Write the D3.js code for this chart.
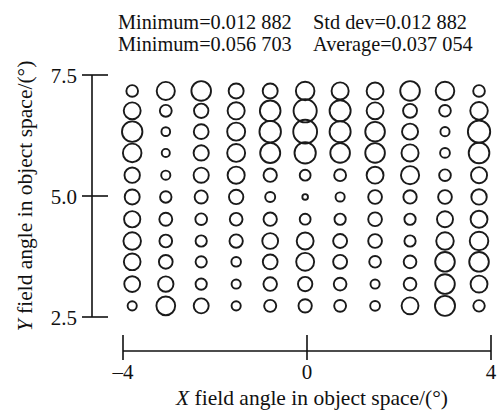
<!DOCTYPE html>
<html lang="en">
<head>
<meta charset="utf-8">
<title>RMS spot grid</title>
<script src="https://d3js.org/d3.v7.min.js"></script>
<style type="text/css">
    body { margin: 0; background-color: #fff; }
    text { font-family: "Liberation Serif", "Times New Roman", serif; font-size: 21px; fill: #111; }
    .title { font-size: 21.5px; }
    .stat { font-size: 20.3px; }
    .axis line, .axis path { stroke: #111; stroke-width: 1.6; }
</style>
</head>
<body>
<script type="text/javascript">

//Width and height
var w = 497;
var h = 412;

// field positions of the grid (degrees)
var xFields = [-3.80, -3.07, -2.30, -1.54, -0.80, -0.04, 0.72, 1.48, 2.24, 3.00, 3.74];
var yFields = [7.17, 6.76, 6.33, 5.89, 5.43, 4.98, 4.52, 4.07, 3.64, 3.18, 2.73];

// RMS spot values, one row per y field (top to bottom)
var row1  = [0.0275, 0.0431, 0.0466, 0.0355, 0.0355, 0.0441, 0.0406, 0.0401, 0.0466, 0.0441, 0.0275];
var row2  = [0.0401, 0.0280, 0.0340, 0.0406, 0.0491, 0.0552, 0.0501, 0.0401, 0.0330, 0.0275, 0.0416];
var row3  = [0.0486, 0.0204, 0.0350, 0.0426, 0.0511, 0.0567, 0.0501, 0.0466, 0.0380, 0.0215, 0.0531];
var row4  = [0.0441, 0.0189, 0.0360, 0.0426, 0.0476, 0.0506, 0.0466, 0.0466, 0.0406, 0.0230, 0.0491];
var row5  = [0.0365, 0.0215, 0.0360, 0.0406, 0.0315, 0.0255, 0.0280, 0.0401, 0.0431, 0.0275, 0.0380];
var row6  = [0.0355, 0.0270, 0.0310, 0.0340, 0.0235, 0.0129, 0.0215, 0.0325, 0.0315, 0.0325, 0.0365];
var row7  = [0.0385, 0.0305, 0.0275, 0.0300, 0.0315, 0.0255, 0.0265, 0.0325, 0.0265, 0.0380, 0.0401];
var row8  = [0.0416, 0.0300, 0.0265, 0.0315, 0.0375, 0.0401, 0.0330, 0.0325, 0.0265, 0.0416, 0.0441];
var row9  = [0.0396, 0.0325, 0.0265, 0.0225, 0.0350, 0.0426, 0.0330, 0.0275, 0.0300, 0.0466, 0.0466];
var row10 = [0.0375, 0.0365, 0.0265, 0.0215, 0.0320, 0.0340, 0.0300, 0.0215, 0.0300, 0.0466, 0.0401];
var row11 = [0.0215, 0.0446, 0.0355, 0.0215, 0.0285, 0.0315, 0.0280, 0.0230, 0.0401, 0.0476, 0.0270];
var rows = [row1, row2, row3, row4, row5, row6, row7, row8, row9, row10, row11];

// tick labels and header
var xTicks = [-4, 0, 4];
var xTickLabels = ["\u20134", "0", "4"];
var yTicks = [7.5, 5.0, 2.5];
var yTickLabels = ["7.5", "5.0", "2.5"];
var statsLeft = ["Minimum=0.012 882", "Minimum=0.056 703"];
var statsRight = ["Std dev=0.012 882", "Average=0.037 054"];

//Scales
var x = d3.scaleLinear().domain([-4, 4]).range([123, 491]);
var y = d3.scaleLinear().domain([2.5, 7.5]).range([317, 75]);
var r = d3.scaleLinear().domain([0.0129, 0.0567]).range([2.8, 11.9]);

//Create SVG element
var svg = d3.select("body")
            .append("svg")
            .attr("width", w)
            .attr("height", h);

//flatten the grid into points
var points = [];
for (var i = 0; i < rows.length; i++) {
    for (var j = 0; j < rows[i].length; j++) {
        points.push({ fx: xFields[j], fy: yFields[i], v: rows[i][j] });
    }
}

svg.selectAll("circle.spot")
   .data(points)
   .enter()
   .append("circle")
   .attr("class", "spot")
   .attr("cx", function(d) { return x(d.fx); })
   .attr("cy", function(d) { return y(d.fy); })
   .attr("r", function(d) { return r(d.v); })
   .attr("fill", "none")
   .attr("stroke", "#1a1a1a")
   .attr("stroke-width", 1.9);

// Y axis
var yAxis = svg.append("g").attr("class", "axis");
yAxis.append("line")
     .attr("x1", 92).attr("x2", 92)
     .attr("y1", y(7.5)).attr("y2", y(2.5));
yAxis.selectAll("line.tick")
     .data(yTicks)
     .enter()
     .append("line")
     .attr("class", "tick")
     .attr("x1", 82).attr("x2", 108)
     .attr("y1", function(d) { return y(d); })
     .attr("y2", function(d) { return y(d); });
yAxis.selectAll("text")
     .data(yTicks)
     .enter()
     .append("text")
     .attr("x", 77)
     .attr("y", function(d) { return y(d) + 8; })
     .attr("text-anchor", "end")
     .text(function(d, i) { return yTickLabels[i]; });

// X axis
var xAxis = svg.append("g").attr("class", "axis");
xAxis.append("line")
     .attr("x1", x(-4)).attr("x2", x(4))
     .attr("y1", 351).attr("y2", 351);
xAxis.selectAll("line.tick")
     .data(xTicks)
     .enter()
     .append("line")
     .attr("class", "tick")
     .attr("x1", function(d) { return x(d); })
     .attr("x2", function(d) { return x(d); })
     .attr("y1", 335).attr("y2", 360);
xAxis.selectAll("text")
     .data(xTicks)
     .enter()
     .append("text")
     .attr("x", function(d) { return x(d); })
     .attr("y", 379)
     .attr("text-anchor", "middle")
     .text(function(d, i) { return xTickLabels[i]; });

// axis titles
var xTitle = svg.append("text")
                .attr("class", "title")
                .attr("x", 312)
                .attr("y", 405)
                .attr("text-anchor", "middle");
xTitle.append("tspan").attr("font-style", "italic").text("X");
xTitle.append("tspan").text(" field angle in object space/(\u00b0)");

var yTitle = svg.append("text")
                .attr("class", "title")
                .attr("transform", "translate(32,196) rotate(-90)")
                .attr("text-anchor", "middle");
yTitle.append("tspan").attr("font-style", "italic").text("Y");
yTitle.append("tspan").text(" field angle in object space/(\u00b0)");

// header stats
svg.selectAll("text.statL")
   .data(statsLeft)
   .enter()
   .append("text")
   .attr("class", "statL stat")
   .attr("x", 118)
   .attr("y", function(d, i) { return 29 + i * 22; })
   .text(function(d) { return d; });

svg.selectAll("text.statR")
   .data(statsRight)
   .enter()
   .append("text")
   .attr("class", "statR stat")
   .attr("x", 313)
   .attr("y", function(d, i) { return 29 + i * 22; })
   .text(function(d) { return d; });

</script>
</body>
</html>
